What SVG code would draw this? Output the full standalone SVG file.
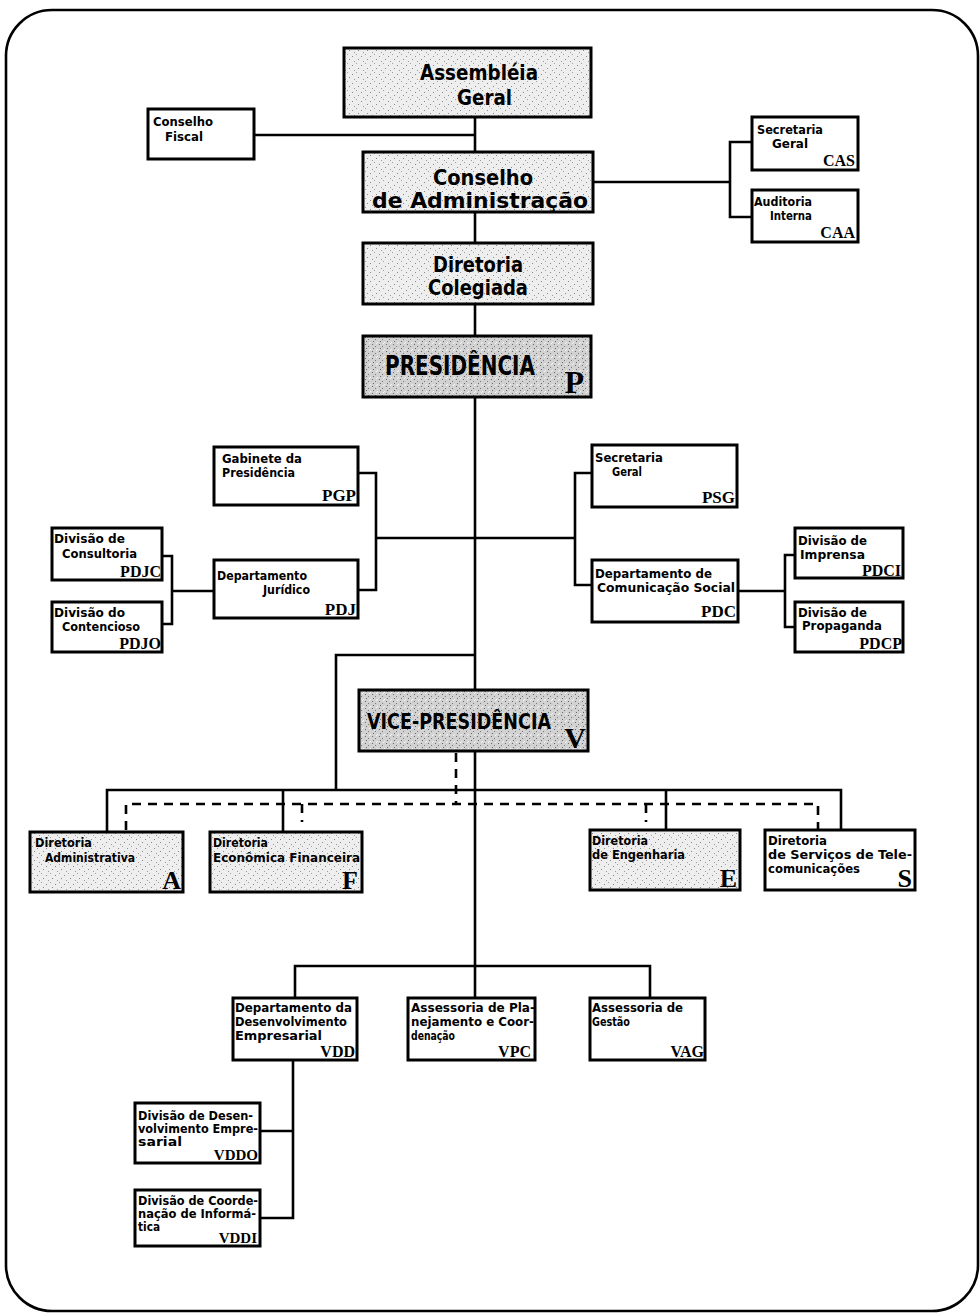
<svg xmlns="http://www.w3.org/2000/svg" width="980" height="1316" viewBox="0 0 980 1316">
<defs>
<pattern id="st" width="9" height="9" patternUnits="userSpaceOnUse">
<rect width="9" height="9" fill="#eeeeee"/>
<rect x="1" y="2" width="1" height="1" fill="#8a8a8a"/>
<rect x="5" y="0" width="1" height="1" fill="#a0a0a0"/>
<rect x="7" y="5" width="1" height="1" fill="#8a8a8a"/>
<rect x="3" y="7" width="1" height="1" fill="#9a9a9a"/>
</pattern>
<pattern id="st2" width="7" height="7" patternUnits="userSpaceOnUse">
<rect width="7" height="7" fill="#d2d2d2"/>
<rect x="1" y="1" width="1" height="1" fill="#6a6a6a"/>
<rect x="4" y="3" width="1" height="1" fill="#7a7a7a"/>
<rect x="2" y="5" width="1" height="1" fill="#6a6a6a"/>
<rect x="6" y="6" width="1" height="1" fill="#f4f4f4"/>
<rect x="5" y="0" width="1" height="1" fill="#f4f4f4"/>
</pattern>
</defs>
<style>
.bx{fill:#fff;stroke:#000;stroke-width:3}
.g1{fill:url(#st)}
.g2{fill:url(#st2)}
.ln{fill:none;stroke:#000;stroke-width:2.6}
.ds{fill:none;stroke:#000;stroke-width:2.6;stroke-dasharray:9 7}
.t{font-family:"Liberation Sans Narrow","DejaVu Sans Condensed","Liberation Sans",sans-serif;font-weight:bold;font-size:12px;fill:#000}
.m{font-size:13px}
.big{font-size:21px}
.c{font-family:"Liberation Serif","DejaVu Serif",serif;font-weight:bold;font-size:16px;fill:#000;text-anchor:end}
.c17{font-size:17px}
.cl{font-size:26px}
</style>
<rect x="6" y="10" width="972" height="1301" rx="46" ry="46" fill="none" stroke="#000" stroke-width="2.6"/>

<g id="connectors">
<path class="ln" d="M475 117V152M255 135H475M475 212V243M475 304V336"/>
<path class="ln" d="M593 182H730M752 142H730V217H752"/>
<path class="ln" d="M475 397V998"/>
<path class="ln" d="M358 473H376V590H358M376 538H575M592 473H575V585H592"/>
<path class="ln" d="M162 556H172V624H162M172 591H214"/>
<path class="ln" d="M738 591H785M795 555H785V627H795"/>
<path class="ln" d="M475 655H336V790"/>
<path class="ln" d="M107 832V790H841V830M283 790V832M666 790V830"/>
<path class="ds" d="M456 753V804"/>
<path class="ds" d="M126 830V804H818V830M302 804V822M646 804V822"/>
<path class="ln" d="M295 998V966H650V998"/>
<path class="ln" d="M293 1060V1218H260M260 1131H293"/>
</g>

<g id="assembleia">
<rect class="bx g1" x="344" y="48" width="247" height="69"/>
<text class="t" style="font-size:22px" x="420" y="80" textLength="118" lengthAdjust="spacingAndGlyphs">Assembléia</text>
<text class="t" style="font-size:22px" x="457" y="105" textLength="55" lengthAdjust="spacingAndGlyphs">Geral</text>
</g>
<g id="conselho-fiscal">
<rect class="bx" x="148" y="109" width="106" height="50"/>
<text class="t" x="153" y="126" textLength="60" lengthAdjust="spacingAndGlyphs">Conselho</text>
<text class="t" x="165" y="141" textLength="38" lengthAdjust="spacingAndGlyphs">Fiscal</text>
</g>
<g id="conselho-admin">
<rect class="bx g1" x="363" y="152" width="230" height="60"/>
<text class="t big" x="433" y="185" textLength="100" lengthAdjust="spacingAndGlyphs">Conselho</text>
<text class="t big" x="372" y="208" textLength="216" lengthAdjust="spacingAndGlyphs">de Administração</text>
</g>
<g id="cas">
<rect class="bx" x="752" y="117" width="106" height="53"/>
<text class="t" x="757" y="134" textLength="66" lengthAdjust="spacingAndGlyphs">Secretaria</text>
<text class="t" x="772" y="148" textLength="36" lengthAdjust="spacingAndGlyphs">Geral</text>
<text class="c" x="855" y="166">CAS</text>
</g>
<g id="caa">
<rect class="bx" x="752" y="190" width="106" height="52"/>
<text class="t" x="754" y="206" textLength="58" lengthAdjust="spacingAndGlyphs">Auditoria</text>
<text class="t" x="770" y="220" textLength="42" lengthAdjust="spacingAndGlyphs">Interna</text>
<text class="c" x="855" y="238">CAA</text>
</g>
<g id="colegiada">
<rect class="bx g1" x="363" y="243" width="230" height="61"/>
<text class="t big" x="433" y="272" textLength="90" lengthAdjust="spacingAndGlyphs">Diretoria</text>
<text class="t big" x="428" y="295" textLength="100" lengthAdjust="spacingAndGlyphs">Colegiada</text>
</g>
<g id="presidencia">
<rect class="bx g2" x="363" y="336" width="228" height="61"/>
<text class="t" style="font-size:26px" x="385" y="375" textLength="150" lengthAdjust="spacingAndGlyphs">PRESIDÊNCIA</text>
<text class="c" style="font-size:32px" x="584" y="393">P</text>
</g>
<g id="pgp">
<rect class="bx" x="214" y="447" width="144" height="58"/>
<text class="t" x="222" y="463" textLength="80" lengthAdjust="spacingAndGlyphs">Gabinete da</text>
<text class="t" x="222" y="477" textLength="73" lengthAdjust="spacingAndGlyphs">Presidência</text>
<text class="c c17" x="356" y="501">PGP</text>
</g>
<g id="pdj">
<rect class="bx" x="214" y="560" width="144" height="58"/>
<text class="t" x="217" y="580" textLength="90" lengthAdjust="spacingAndGlyphs">Departamento</text>
<text class="t" x="263" y="594" textLength="47" lengthAdjust="spacingAndGlyphs">Jurídico</text>
<text class="c c17" x="356" y="615">PDJ</text>
</g>
<g id="pdjc">
<rect class="bx" x="52" y="528" width="110" height="52"/>
<text class="t" x="54" y="543" textLength="71" lengthAdjust="spacingAndGlyphs">Divisão de</text>
<text class="t" x="62" y="558" textLength="75" lengthAdjust="spacingAndGlyphs">Consultoria</text>
<text class="c" x="161" y="577">PDJC</text>
</g>
<g id="pdjo">
<rect class="bx" x="52" y="602" width="110" height="50"/>
<text class="t" x="54" y="617" textLength="71" lengthAdjust="spacingAndGlyphs">Divisão do</text>
<text class="t" x="62" y="631" textLength="78" lengthAdjust="spacingAndGlyphs">Contencioso</text>
<text class="c" x="161" y="649">PDJO</text>
</g>
<g id="psg">
<rect class="bx" x="592" y="445" width="145" height="62"/>
<text class="t" x="595" y="462" textLength="68" lengthAdjust="spacingAndGlyphs">Secretaria</text>
<text class="t" x="612" y="476" textLength="30" lengthAdjust="spacingAndGlyphs">Geral</text>
<text class="c c17" x="735" y="503">PSG</text>
</g>
<g id="pdc">
<rect class="bx" x="592" y="560" width="146" height="62"/>
<text class="t" x="595" y="578" textLength="117" lengthAdjust="spacingAndGlyphs">Departamento de</text>
<text class="t" x="597" y="592" textLength="138" lengthAdjust="spacingAndGlyphs">Comunicação Social</text>
<text class="c c17" x="736" y="617">PDC</text>
</g>
<g id="pdci">
<rect class="bx" x="795" y="528" width="108" height="50"/>
<text class="t" x="798" y="545" textLength="69" lengthAdjust="spacingAndGlyphs">Divisão de</text>
<text class="t" x="800" y="559" textLength="65" lengthAdjust="spacingAndGlyphs">Imprensa</text>
<text class="c" x="901" y="576">PDCI</text>
</g>
<g id="pdcp">
<rect class="bx" x="795" y="602" width="108" height="50"/>
<text class="t" x="798" y="617" textLength="69" lengthAdjust="spacingAndGlyphs">Divisão de</text>
<text class="t" x="802" y="630" textLength="80" lengthAdjust="spacingAndGlyphs">Propaganda</text>
<text class="c" x="902" y="649">PDCP</text>
</g>
<g id="vice">
<rect class="bx g2" x="359" y="690" width="229" height="61"/>
<text class="t" style="font-size:20.5px" x="367" y="729" textLength="184" lengthAdjust="spacingAndGlyphs">VICE-PRESIDÊNCIA</text>
<text class="c" style="font-size:30px" x="586" y="748">V</text>
</g>
<g id="dir-a">
<rect class="bx g1" x="30" y="832" width="153" height="60"/>
<text class="t m" x="35" y="847" textLength="57" lengthAdjust="spacingAndGlyphs">Diretoria</text>
<text class="t m" x="45" y="862" textLength="90" lengthAdjust="spacingAndGlyphs">Administrativa</text>
<text class="c cl" x="181" y="889">A</text>
</g>
<g id="dir-f">
<rect class="bx g1" x="210" y="832" width="152" height="60"/>
<text class="t m" x="213" y="847" textLength="55" lengthAdjust="spacingAndGlyphs">Diretoria</text>
<text class="t m" x="213" y="862" textLength="147" lengthAdjust="spacingAndGlyphs">Econômica Financeira</text>
<text class="c cl" x="358" y="889">F</text>
</g>
<g id="dir-e">
<rect class="bx g1" x="590" y="830" width="150" height="60"/>
<text class="t m" x="592" y="845" textLength="56" lengthAdjust="spacingAndGlyphs">Diretoria</text>
<text class="t m" x="592" y="859" textLength="93" lengthAdjust="spacingAndGlyphs">de Engenharia</text>
<text class="c cl" x="737" y="887">E</text>
</g>
<g id="dir-s">
<rect class="bx" x="765" y="830" width="150" height="60"/>
<text class="t" x="768" y="845" textLength="59" lengthAdjust="spacingAndGlyphs">Diretoria</text>
<text class="t" x="768" y="859" textLength="144" lengthAdjust="spacingAndGlyphs">de Serviços de Tele-</text>
<text class="t" x="768" y="873" textLength="92" lengthAdjust="spacingAndGlyphs">comunicações</text>
<text class="c cl" x="912" y="887">S</text>
</g>
<g id="vdd">
<rect class="bx" x="233" y="998" width="124" height="62"/>
<text class="t" x="235" y="1012" textLength="117" lengthAdjust="spacingAndGlyphs">Departamento da</text>
<text class="t" x="235" y="1026" textLength="112" lengthAdjust="spacingAndGlyphs">Desenvolvimento</text>
<text class="t" x="235" y="1040" textLength="87" lengthAdjust="spacingAndGlyphs">Empresarial</text>
<text class="c" x="355" y="1057">VDD</text>
</g>
<g id="vpc">
<rect class="bx" x="408" y="998" width="127" height="62"/>
<text class="t" x="411" y="1012" textLength="124" lengthAdjust="spacingAndGlyphs">Assessoria de Pla-</text>
<text class="t" x="411" y="1026" textLength="123" lengthAdjust="spacingAndGlyphs">nejamento e Coor-</text>
<text class="t" x="411" y="1040" textLength="44" lengthAdjust="spacingAndGlyphs">denação</text>
<text class="c" x="531" y="1057">VPC</text>
</g>
<g id="vag">
<rect class="bx" x="590" y="998" width="115" height="62"/>
<text class="t" x="592" y="1012" textLength="91" lengthAdjust="spacingAndGlyphs">Assessoria de</text>
<text class="t" x="592" y="1026" textLength="38" lengthAdjust="spacingAndGlyphs">Gestão</text>
<text class="c" x="704" y="1057">VAG</text>
</g>
<g id="vddo">
<rect class="bx" x="135" y="1103" width="125" height="60"/>
<text class="t" style="font-size:11.5px" x="138" y="1120" textLength="115" lengthAdjust="spacingAndGlyphs">Divisão de Desen-</text>
<text class="t" style="font-size:11.5px" x="138" y="1133" textLength="120" lengthAdjust="spacingAndGlyphs">volvimento Empre-</text>
<text class="t" style="font-size:11.5px" x="138" y="1146" textLength="44" lengthAdjust="spacingAndGlyphs">sarial</text>
<text class="c" style="font-size:15px" x="258" y="1160">VDDO</text>
</g>
<g id="vddi">
<rect class="bx" x="135" y="1190" width="125" height="56"/>
<text class="t" style="font-size:11.5px" x="138" y="1205" textLength="120" lengthAdjust="spacingAndGlyphs">Divisão de Coorde-</text>
<text class="t" style="font-size:11.5px" x="138" y="1218" textLength="118" lengthAdjust="spacingAndGlyphs">nação de Informá-</text>
<text class="t" style="font-size:11.5px" x="138" y="1231" textLength="22" lengthAdjust="spacingAndGlyphs">tica</text>
<text class="c" style="font-size:15px" x="257" y="1243">VDDI</text>
</g>
</svg>
